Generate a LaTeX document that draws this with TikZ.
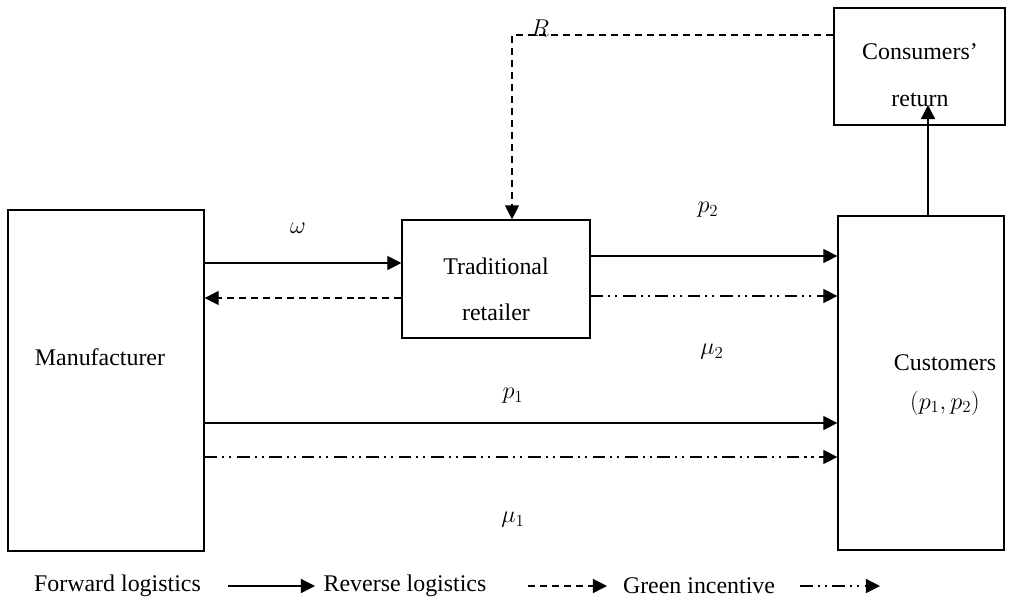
\documentclass[tikz,border=0pt]{standalone}
\usepackage{fontspec}
\setmainfont{Liberation Serif}
\usetikzlibrary{arrows.meta}

\tikzset{
	box/.style={draw, line width=0.9pt, inner sep=0pt},
	txt/.style={font=\fontsize{17}{20}\selectfont, inner sep=0pt},
	fwd/.style={line width=0.9pt, -{Triangle[length=10pt,width=10pt]}},
	rev/.style={fwd, dash pattern=on 5pt off 3.5pt},
	green/.style={fwd, dash pattern=on 9pt off 3.5pt on 1.5pt off 3.5pt on 1.5pt off 4pt},
}

\begin{document}
\begin{tikzpicture}[x=0.025cm, y=-0.025cm]
	\useasboundingbox (0,0) rectangle (1011,608);
	
	% boxes
	\node[box, minimum width=4.9cm, minimum height=8.525cm] (man) at (106,380.5) {};
	\node[box, minimum width=4.7cm, minimum height=2.95cm] (trad) at (496,279) {};
	\node[box, minimum width=4.15cm, minimum height=8.35cm] (cus) at (921,383) {};
	\node[box, minimum width=4.275cm, minimum height=2.925cm] (cret) at (919.5,66.5) {};
	
	% box texts
	\node[txt] (mantxt) at (100,357) {Manufacturer};
	\node[txt] (tradtxt1) at (496,266) {Traditional};
	\node[txt] (tradtxt2) at (496,312) {retailer};
	\node[txt] (custxt1) at (945,363) {Customers};
	\node[txt] (custxt2) at (945,403) {$(p_1, p_2)$};
	\node[txt] (crettxt1) at (920,52) {Consumers’};
	\node[txt] (crettxt2) at (920,100) {return};
	
	% flow labels
	\node[txt] (w) at (298,228) {$\omega$};
	\node[txt] (ptwo) at (708,210) {$p_2$};
	\node[txt] (mutwo) at (712,352) {$\mu_2$};
	\node[txt] (pone) at (513,396) {$p_1$};
	\node[txt] (muone) at (513,520) {$\mu_1$};
	\node[txt] (r) at (540,28) {$R$};
	
	% connectors
	\draw[fwd] (man.east |- 0,263) -- (trad.west |- 0,263);
	\draw[rev] (trad.west |- 0,298) -- (man.east |- 0,298);
	\draw[fwd] (trad.east |- 0,256) -- (cus.west |- 0,256);
	\draw[green] (trad.east |- 0,296) -- (cus.west |- 0,296);
	\draw[fwd] (man.east |- 0,423) -- (cus.west |- 0,423);
	\draw[green] (man.east |- 0,457) -- (cus.west |- 0,457);
	\coordinate (rettip) at (928,105);
	\draw[fwd] (cus.north -| rettip) -- (rettip);
	\draw[rev] (cret.west |- 0,35) -| (trad.north -| 512,0);
	
	% legend
	\node[txt] (lfwd) at (117.5,586) {Forward logistics};
	\node[txt] (lrev) at (405,586) {Reverse logistics};
	\node[txt] (lgreen) at (699,586) {Green incentive};
	\coordinate (a1) at (228,586);
	\coordinate (a2) at (315,586);
	\coordinate (b1) at (528,586);
	\coordinate (b2) at (607,586);
	\coordinate (c1) at (800,586);
	\coordinate (c2) at (880,586);
	\draw[fwd] (a1) -- (a2);
	\draw[rev] (b1) -- (b2);
	\draw[green] (c1) -- (c2);

\end{tikzpicture}
\end{document}
